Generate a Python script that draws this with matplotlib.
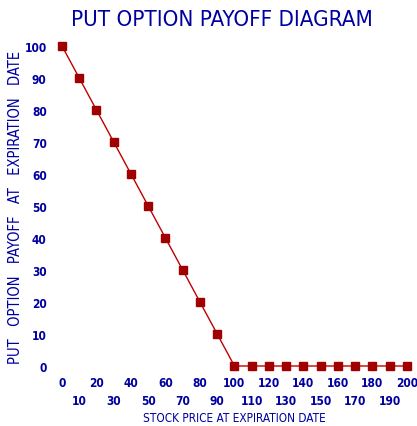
import numpy as np
import matplotlib
matplotlib.use("Agg")
import matplotlib.pyplot as plt

# data: put option payoff, strike 100
stock_price = [0, 10, 20, 30, 40, 50, 60, 70, 80, 90, 100,
               110, 120, 130, 140, 150, 160, 170, 180, 190, 200]
payoff = [100, 90, 80, 70, 60, 50, 40, 30, 20, 10, 0,
          0, 0, 0, 0, 0, 0, 0, 0, 0, 0]
y_ticks = [0, 10, 20, 30, 40, 50, 60, 70, 80, 90, 100]

plt.rcParams['font.family'] = ['DejaVu Sans']
plt.rcParams['font.stretch'] = 'condensed'
blue = '#0000a0'

fig = plt.figure(figsize=(4.17, 4.27), dpi=100)
ax = fig.add_axes([0.1487, 0.1405, 0.827, 0.7494])

ax.plot(stock_price, payoff, color='#c00000', linewidth=1.0,
        marker='s', markersize=6, markerfacecolor='#a00000',
        markeredgecolor='#a00000', clip_on=False)

ax.set_xlim(0, 200)
ax.set_ylim(0, 100)

# staggered x labels: even on first row, odd on second
even = stock_price[0::2]
odd = stock_price[1::2]
ax.set_xticks(even)
ax.set_xticklabels([str(v) for v in even])
ax.set_xticks(odd, minor=True)
ax.set_xticklabels([str(v) for v in odd], minor=True)
ax.set_yticks(y_ticks)

ax.tick_params(axis='both', which='both', length=0, colors=blue, labelsize=8.6)
ax.tick_params(axis='x', which='major', pad=7.5)
ax.tick_params(axis='x', which='minor', pad=20.5)
ax.tick_params(axis='y', pad=11)
for lbl in ax.get_xticklabels(which='both') + ax.get_yticklabels():
    lbl.set_fontweight('bold')

for s in ax.spines.values():
    s.set_visible(False)

fig.text(0.532, 0.953, 'PUT OPTION PAYOFF DIAGRAM', color=blue,
         fontsize=16, ha='center', va='center')
fig.text(0.563, 0.021, 'STOCK PRICE AT EXPIRATION DATE', color=blue,
         fontsize=8.5, ha='center', va='center')
fig.text(0.038, 0.515, 'PUT   OPTION   PAYOFF   AT   EXPIRATION   DATE', color=blue,
         fontsize=10.5, ha='center', va='center', rotation=90)

fig.savefig('out.png', dpi=100)
